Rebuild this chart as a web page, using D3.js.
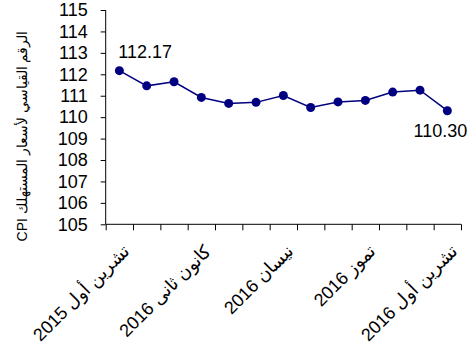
<!DOCTYPE html>
<html><head><meta charset="utf-8">
<script src="https://cdn.jsdelivr.net/npm/d3@7"></script>
<style>
html,body{margin:0;padding:0;background:#fff;}
svg{display:block;font-family:"Liberation Sans",Arial,sans-serif;}
</style></head>
<body><svg id="c" width="473" height="357"></svg>
<script>
const months = ["تشرين أول","تشرين ثاني","كانون أول","كانون ثانى","شباط","آذار","نيسان","أيار","حزيران","تموز","آب","أيلول","تشرين أول"];
const years = [2015,2015,2015,2016,2016,2016,2016,2016,2016,2016,2016,2016,2016];
const cpi = [112.17,111.46,111.65,110.92,110.64,110.69,111.01,110.45,110.71,110.78,111.17,111.26,110.30];
const labelIdx = [0,3,6,9,12];
const yTicks = [105,106,107,108,109,110,111,112,113,114,115];
const yTitle = "CPI الرقم القياسي لأسعار المستهلك";
const annotIdx = [0,12];

const svg = d3.select("#c");
const L=105.7, R=461, T=10, B=224.3;
const x = d3.scaleLinear().domain([0,cpi.length]).range([L,R]);
const y = d3.scaleLinear().domain([105,115]).range([B,T]);

// y axis
const ya = svg.append("g").attr("transform",`translate(${L},0)`)
  .call(d3.axisLeft(y).tickValues(yTicks).tickSize(5).tickPadding(13).tickFormat(d3.format("d")));
ya.selectAll("text").attr("font-size",18).attr("fill","#000").attr("font-family","Liberation Sans, Arial, sans-serif");
ya.selectAll("line,path").attr("stroke","#000");
ya.select("path").attr("d",`M0,${T}V${B}`);

// x axis
const xa = svg.append("g").attr("transform",`translate(0,${B})`)
  .call(d3.axisBottom(x).tickValues(d3.range(cpi.length+1)).tickSize(6).tickFormat(""));
xa.selectAll("line,path").attr("stroke","#000");
xa.select("path").attr("d",`M${L},0H${R}`);

// x labels
svg.append("g").selectAll("text").data(labelIdx).join("text")
  .attr("transform",i=>`translate(${x(i+0.5)+2},${B+19}) rotate(-45)`)
  .attr("text-anchor","end").attr("dy","0.71em")
  .attr("font-size",18).attr("fill","#000")
  .text(i=>years[i]+" "+months[i]);

// y title
svg.append("text").attr("transform","translate(27,136) rotate(-90)")
  .attr("text-anchor","middle").attr("font-size",14).attr("fill","#000")
  .text(yTitle);

// line
const line = d3.line().x((d,i)=>x(i+0.5)).y(d=>y(d));
svg.append("path").datum(cpi).attr("d",line).attr("fill","none")
  .attr("stroke","#000080").attr("stroke-width",1.5);
svg.append("g").selectAll("circle").data(cpi).join("circle")
  .attr("cx",(d,i)=>x(i+0.5)).attr("cy",d=>y(d)).attr("r",4.5).attr("fill","#000080");

// annotations
svg.append("text").attr("x",x(annotIdx[0]+0.5)-1).attr("y",y(cpi[annotIdx[0]])-13)
  .attr("font-size",18).attr("fill","#000").text(cpi[annotIdx[0]].toFixed(2));
svg.append("text").attr("x",x(annotIdx[1]+0.5)+20).attr("y",y(cpi[annotIdx[1]])+26)
  .attr("text-anchor","end").attr("font-size",18).attr("fill","#000").text(cpi[annotIdx[1]].toFixed(2));
</script></body></html>
